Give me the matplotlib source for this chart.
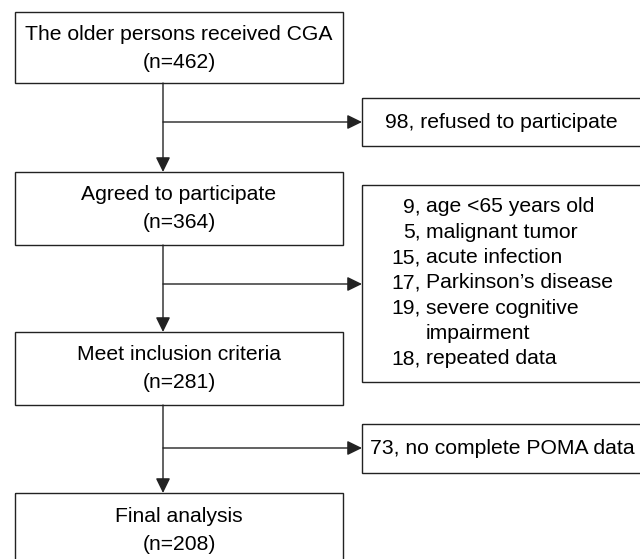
import matplotlib.pyplot as plt
from matplotlib.patches import Rectangle

plt.rcParams['font.family'] = ['Liberation Sans', 'DejaVu Sans']

# Flow data
stage_labels = ["The older persons received CGA", "Agreed to participate",
                "Meet inclusion criteria", "Final analysis"]
stage_n = [462, 364, 281, 208]

refused_n = 98
refused_label = "refused to participate"

excl_counts = [9, 5, 15, 17, 19, 18]
excl_reasons = ["age <65 years old", "malignant tumor", "acute infection",
                "Parkinson\u2019s disease", "severe cognitive\nimpairment", "repeated data"]

poma_n = 73
poma_label = "no complete POMA data"

# Layout (pixel coordinates, y down)
line_col = '#222222'
fs = 15.2
stem_x = 163
left_x0, left_x1 = 15, 343
text_cx = (left_x0 + left_x1) / 2
right_x0 = 362
main_boxes = [(12, 83), (172, 245), (332, 405), (493, 580)]
branch_y = [122, 284, 448]

fig = plt.figure(figsize=(6.4, 5.59), dpi=100)
ax = fig.add_axes([0, 0, 1, 1])
ax.set_xlim(0, 640)
ax.set_ylim(559, 0)
ax.axis('off')


def box(x0, y0, x1, y1):
    ax.add_patch(Rectangle((x0, y0), x1 - x0, y1 - y0, fill=False,
                           edgecolor=line_col, lw=1.0))


def arrow(x0, y0, x1, y1):
    ax.annotate('', xy=(x1, y1), xytext=(x0, y0),
                arrowprops=dict(arrowstyle='-|>,head_length=0.45,head_width=0.22',
                                color=line_col, lw=1.0,
                                mutation_scale=20, shrinkA=0, shrinkB=0))


# main column boxes
for (y0, y1), lab, n in zip(main_boxes, stage_labels, stage_n):
    box(left_x0, y0, left_x1, y1)
    ax.text(text_cx, y0 + 23, lab, ha='center', va='center', fontsize=fs)
    ax.text(text_cx, y0 + 51, f"(n={n})", ha='center', va='center', fontsize=fs)

# vertical arrows between main boxes
for (ya0, ya1), (yb0, yb1) in zip(main_boxes[:-1], main_boxes[1:]):
    arrow(stem_x, ya1, stem_x, yb0)

# side boxes
box(right_x0, 98, 660, 146)
ax.text(385, 122, f"{refused_n}, {refused_label}", ha='left', va='center', fontsize=fs)

box(right_x0, 185, 660, 382)
row_y = 207
for c, r in zip(excl_counts, excl_reasons):
    ax.text(421, row_y, f"{c},", ha='right', va='center', fontsize=fs)
    for part in r.split("\n"):
        ax.text(426, row_y, part, ha='left', va='center', fontsize=fs)
        row_y += 25.3

box(right_x0, 424, 660, 473)
ax.text(370, 448, f"{poma_n}, {poma_label}", ha='left', va='center', fontsize=fs)

# side arrows
for y in branch_y:
    arrow(stem_x, y, right_x0, y)

fig.savefig('out.png', dpi=100)
